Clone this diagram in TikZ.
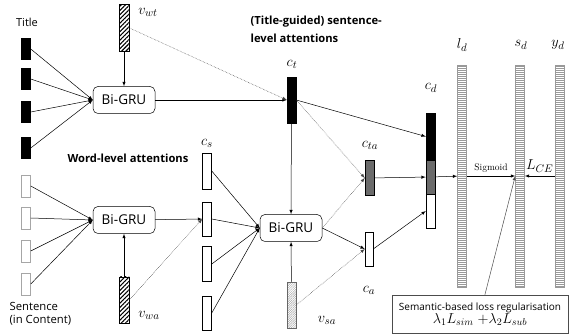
\documentclass[tikz,border=0pt]{standalone}
\usepackage{fontspec}
\setsansfont{Open Sans}
\usepackage{amsmath,amssymb}
\usetikzlibrary{arrows,patterns.meta}

\begin{document}
\begin{tikzpicture}[auto,x=1pt,y=-1pt,>=latex,line width=0.5pt,
	txt/.style={font=\sffamily\fontsize{11}{18}\selectfont},
	sect/.style={font=\sffamily\bfseries\fontsize{11.2}{18}\selectfont,align=left},
	mlbl/.style={font=\fontsize{15}{17}\selectfont},
	gru/.style={draw,rounded corners=5pt,minimum width=62pt,minimum height=27pt,font=\sffamily\fontsize{13.5}{15}\selectfont},
	vec/.style={draw,inner sep=0pt,minimum width=9pt,minimum height=#1},
	tvec/.style={vec=21pt,fill=black},
	svec/.style={vec=22pt,draw=gray!70,fill=white},
	hatch/.style={vec=47pt,minimum width=10pt,pattern={Lines[angle=45,distance=3pt,line width=1.1pt]}},
	lhatch/.style={vec=46pt,draw=gray!80!black,pattern={Lines[angle=45,distance=1.6pt,line width=0.5pt]},pattern color=gray!70},
	stripe/.style={vec=222pt,draw=gray!80,pattern={Lines[angle=0,distance=2pt,line width=0.6pt]},pattern color=gray!80},
	dots/.style={densely dotted,draw=black!75}]
				\useasboundingbox (0,0) rectangle (571,334);
				\node[txt] (title) at (27,22) {Title};
				\node[tvec] (t1) at (26,49) {};
				\node[tvec] (t2) at (26,79) {};
				\node[tvec] (t3) at (26,112) {};
				\node[tvec] (t4) at (26,148) {};
				\node[svec] (s1) at (26,186) {};
				\node[svec] (s2) at (26,218) {};
				\node[svec] (s3) at (26,251) {};
				\node[svec] (s4) at (26,284) {};
				\node[txt,align=left,anchor=north west,font=\sffamily\fontsize{11.3}{13}\selectfont] (sent) at (6,299) {Sentence\\(in Content)};
				\node[gru] (gru1) at (124,100) {Bi-GRU};
				\node[gru] (gru2) at (124,220) {Bi-GRU};
				\node[gru] (gru3) at (291,228) {Bi-GRU};
				\node[hatch] (vwt) at (124,28) {};
				\node[mlbl] (vwtl) at (148,12) {$v_{wt}$};
				\node[hatch,minimum height=46pt] (vwa) at (124,300) {};
				\node[mlbl] (vwal) at (149,315) {$v_{wa}$};
				\node[lhatch] (vsa) at (291.5,305) {};
				\node[mlbl] (vsal) at (327,320) {$v_{sa}$};
				\node[sect,anchor=north west] (sentatt) at (247,12) {(Title-guided) sentence-\\level attentions};
				\node[sect] (wordatt) at (128,158) {Word-level attentions};
				\node[vec=46pt,fill=black] (ct) at (291.5,100) {};
				\node[mlbl] (ctl) at (292,64) {$c_t$};
				\node[vec=36pt] (cs1) at (207,171) {};
				\node[vec=34pt] (cs2) at (207,219) {};
				\node[vec=35pt] (cs3) at (207,264) {};
				\node[vec=34pt] (cs4) at (207,313) {};
				\node[mlbl] (csl) at (207,143) {$c_s$};
				\node[vec=35pt,fill=black!58] (cta) at (369.5,178) {};
				\node[mlbl] (ctal) at (370,145) {$c_{ta}$};
				\node[vec=34pt,minimum width=8pt] (ca) at (369,249) {};
				\node[mlbl] (cal) at (369,290) {$c_a$};
				\node[vec=47pt,fill=black] (cdtop) at (430.5,136.5) {};
				\node[vec=34pt,fill=black!58] (cdmid) at (430.5,177) {};
				\node[vec=34pt] (cdbot) at (430.5,211) {};
				\node[mlbl] (cdl) at (431,88) {$c_d$};
				\node[stripe] (ld) at (462,176) {};
				\node[stripe] (sd) at (520,176) {};
				\node[stripe] (yd) at (559.5,176) {};
				\node[mlbl] (ldl) at (462,45) {$l_d$};
				\node[mlbl] (sdl) at (521,45) {$s_d$};
				\node[mlbl] (ydl) at (558,45) {$y_d$};
				\node[draw=gray!60!black,fill=white,minimum width=176pt,minimum height=38pt,inner sep=1pt,align=center] (loss) at (480,314) {{\sffamily\fontsize{10}{12}\selectfont Semantic-based loss regularisation}\\[0pt]{\fontsize{14}{16}\selectfont$\lambda_1 L_{sim}\;{+}\lambda_2 L_{sub}$}};
				\draw[->] (t1.east) to (gru1.west);
				\draw[->] (t2.east) to (gru1.west);
				\draw[->] (t3.east) to (gru1.west);
				\draw[->] (t4.east) to (gru1.west);
				\draw[->] (s1.east) to (gru2.west);
				\draw[->] (s2.east) to (gru2.west);
				\draw[->] (s3.east) to (gru2.west);
				\draw[->] (s4.east) to (gru2.west);
				\draw[->] (vwt) to (gru1);
				\draw[->] (vwa) to (gru2);
				\draw[->] (gru1) to (ct);
				\draw[->,dots] (vwt.east) to (ct.west);
				\draw[->] (gru2) to (cs2);
				\draw[->,dots] (vwa.east) to (cs2.west);
				\draw[->] (cs1.east) to (gru3.west);
				\draw[->] (cs2.east) to (gru3.west);
				\draw[->] (cs3.east) to (gru3.west);
				\draw[->] (cs4.east) to (gru3.west);
				\draw[->] (ct) to (gru3);
				\draw[->] (vsa) to (gru3);
				\draw[->,dots] (ct.east) to (cta.west);
				\draw[->,dots] (gru3.east) to (cta.west);
				\draw[->] (gru3.east) to (ca.west);
				\draw[->,dots] (vsa.east) to (ca.west);
				\draw[->] (ct.east) to (cdtop.west);
				\draw[->] (cta) to (cdmid);
				\draw[->] (ca.east) to (cdbot.west);
				\draw[->] (cdmid) to (ld);
				\draw[->] (ld) to node[above,font=\fontsize{9.5}{11}\selectfont]{Sigmoid} (sd);
				\draw[->] (yd) to node[above,mlbl]{$L_{CE}$} (sd);
				\draw[->,draw=gray!60!black] (loss) to (sd.west);
			\end{tikzpicture}
\end{document}
